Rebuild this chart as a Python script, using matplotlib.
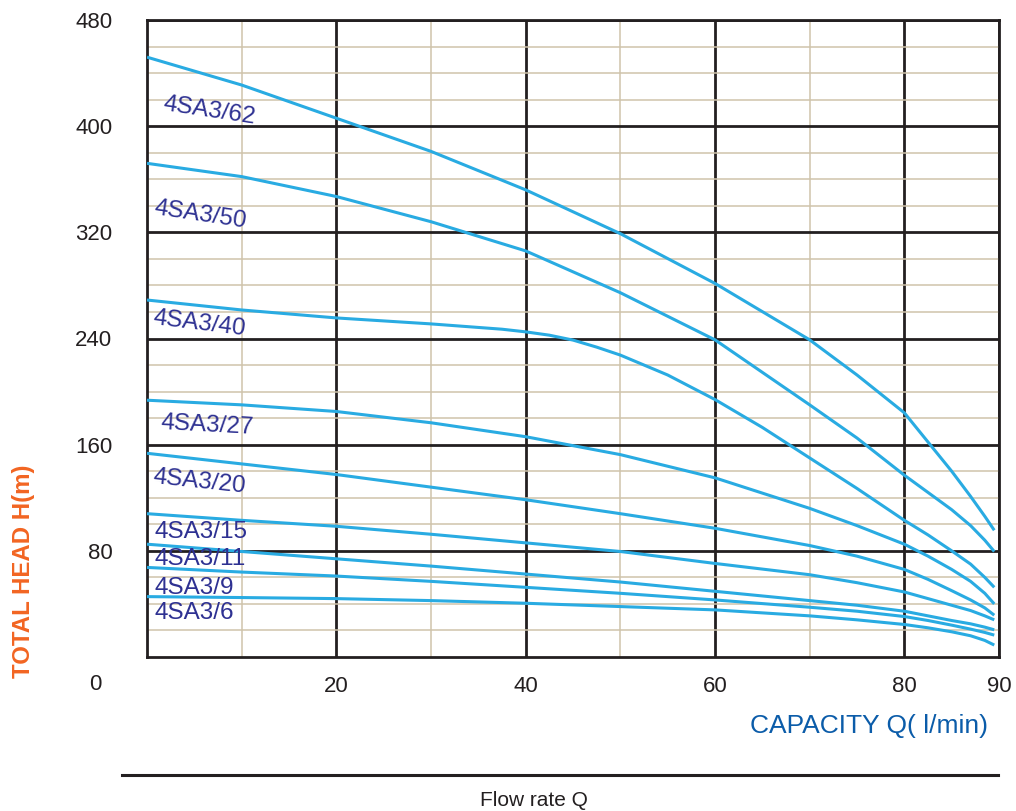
import matplotlib
matplotlib.use("Agg")
import matplotlib.pyplot as plt

plt.rcParams['font.family'] = ['Liberation Sans', 'DejaVu Sans']

# ---- data ----
Q = [0, 10, 20, 30, 40, 50, 60, 70, 75, 80, 82.5, 85, 87, 88.5, 89.5]
H_62 = [452, 431, 406, 381, 352, 319, 281.5, 239, 212.5, 184, 162, 140, 121, 106, 95.5]
H_50 = [372, 362, 347, 328, 306, 274.5, 239, 190, 165, 137, 124, 111, 99, 88, 79.5]
Q_40 = [0, 10, 20, 30, 37.5, 40, 42.5, 45, 47.5, 50, 55, 60, 65, 70, 75, 80, 82.5, 85, 87, 88.5, 89.5]
H_40 = [269, 261.5, 255.5, 251, 247, 245, 242.5, 238.8, 233.5, 227.5, 212.5, 194, 173, 150, 127, 103,
        92, 80, 70, 60, 52.5]
H_27 = [193.5, 190, 185, 176.5, 166, 152.5, 135, 112, 99, 85, 76, 66, 57, 48, 40]
H_20 = [153.5, 145.5, 137.5, 128, 118.5, 108, 97, 84, 76, 66, 58.5, 50, 43, 37, 31.5]
H_15 = [108, 103, 98.5, 92.5, 86, 79.5, 70.5, 62, 56, 49, 44, 39, 35, 31, 28]
H_11 = [85, 79.5, 74, 68.5, 62.5, 56.5, 49.5, 42.5, 39, 34.5, 31, 27.5, 25, 22.5, 20.5]
H_9 = [67.5, 64, 61, 57, 52.5, 48, 43, 37.5, 34.5, 30.5, 27.5, 24, 21, 18.5, 16.5]
H_6 = [45.5, 44.8, 44, 42.5, 40.5, 38, 35.5, 31, 28, 24.5, 22, 19, 16, 12.5, 9]

series = [
    ("4SA3/62", Q, H_62),
    ("4SA3/50", Q, H_50),
    ("4SA3/40", Q_40, H_40),
    ("4SA3/27", Q, H_27),
    ("4SA3/20", Q, H_20),
    ("4SA3/15", Q, H_15),
    ("4SA3/11", Q, H_11),
    ("4SA3/9", Q, H_9),
    ("4SA3/6", Q, H_6),
]

# label anchor (Q, H) and rotation
label_pos = {
    "4SA3/62": (1.7, 417, -8.5),
    "4SA3/50": (0.75, 338, -8.5),
    "4SA3/40": (0.65, 255.5, -7),
    "4SA3/27": (1.5, 176.3, -3),
    "4SA3/20": (0.65, 135.6, -6),
    "4SA3/15": (0.75, 94, 0),
    "4SA3/11": (0.75, 73.6, 0),
    "4SA3/9": (0.75, 51.8, 0),
    "4SA3/6": (0.75, 33.4, 0),
}

x_major = [20, 40, 60, 80, 90]
x_minor = [10, 30, 50, 70]
y_major = [80, 160, 240, 320, 400, 480]
y_minor = [v for v in range(20, 480, 20) if v % 80 != 0]

DARK = '#231f20'
CURVE = '#29abe2'
LABEL = '#2e3192'
TAN = '#cfc3ab'

W, Hpx = 1016, 811
fig = plt.figure(figsize=(W / 100, Hpx / 100), dpi=100)
ax = fig.add_axes([147 / W, 1 - 657 / Hpx, 852 / W, 637 / Hpx])

ax.set_xlim(0, 90)
ax.set_ylim(0, 480)

ax.set_xticks(x_major)
ax.set_xticks(x_minor, minor=True)
ax.set_yticks(y_major)
ax.set_yticks(y_minor, minor=True)
ax.set_xticklabels([str(v) for v in x_major])
ax.set_yticklabels([str(v) for v in y_major])
ax.tick_params(axis='both', which='both', length=0, labelsize=16, labelcolor=DARK)
ax.tick_params(axis='x', pad=14)
ax.tick_params(axis='y', pad=25)

ax.set_axisbelow(True)
ax.grid(which='minor', color=TAN, linewidth=1.1)
ax.grid(which='major', color=DARK, linewidth=2.0)
for s in ax.spines.values():
    s.set_color(DARK)
    s.set_linewidth(2.0)

for name, qs, hs in series:
    ax.plot(qs, hs, color=CURVE, linewidth=2.2, solid_capstyle='butt',
            solid_joinstyle='round', zorder=3)
    lx, ly, rot = label_pos[name]
    ax.text(lx, ly, name, color=LABEL, fontsize=17.5, ha='left', va='center',
            rotation=rot, rotation_mode='anchor', zorder=4)

# "0" label at the corner
fig.text(95 / W, 1 - 685 / Hpx, "0", fontsize=16, color=DARK, ha='center', va='center')

# axis titles
fig.text(24 / W, 1 - 571.5 / Hpx, "TOTAL HEAD H(m)", fontsize=17.3, fontweight='bold',
         color='#f26522', rotation=90, ha='center', va='center')
fig.text(988 / W, 1 - 726 / Hpx, "CAPACITY Q( l/min)", fontsize=19, color='#0b5ca9',
         ha='right', va='center')

# bottom rule and caption
fig.add_artist(plt.Line2D([122 / W, 998 / W], [1 - 775 / Hpx, 1 - 775 / Hpx],
                          color=DARK, linewidth=2.2, transform=fig.transFigure))
fig.text(534 / W, 1 - 801 / Hpx, "Flow rate Q", fontsize=15, color=DARK,
         ha='center', va='center')

fig.savefig("out.png", dpi=100)
